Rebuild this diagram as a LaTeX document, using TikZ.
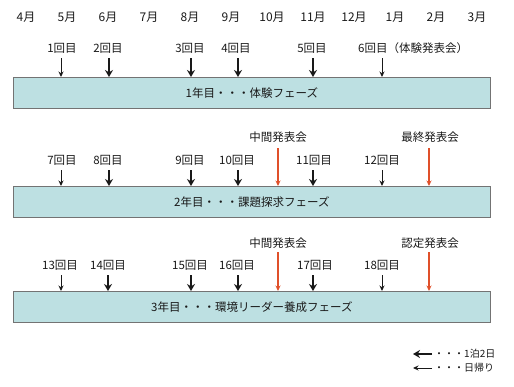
\documentclass[tikz,border=0pt]{standalone}
\usepackage{fontspec}
\usetikzlibrary{arrows.meta}
\setmainfont{Noto Sans CJK JP}
\begin{document}
\begin{tikzpicture}[x=1pt,y=-1pt,
  lbl/.style={font=\fontsize{11.5}{13}\selectfont, inner sep=0pt, text=black!90},
  mon/.style={font=\fontsize{12}{14}\selectfont, inner sep=0pt, text=black!90},
  bar/.style={draw=black!55, line width=0.8pt, fill=barfill, minimum width=477pt, minimum height=31pt, inner sep=0pt, anchor=north west, font=\fontsize{11.5}{13}\selectfont, text=black!90},
  thickarr/.style={line width=2.4pt, -{Stealth[length=7pt,width=8pt]}, black!90},
  thinarr/.style={line width=1pt, -{Stealth[length=5.5pt,width=5pt]}, black!90},
  redarr/.style={line width=1.2pt, -{Stealth[length=5.5pt,width=5pt]}, redc},
]
\definecolor{barfill}{HTML}{BDE0E2}
\definecolor{redc}{HTML}{E0502A}
\useasboundingbox (0,0) rectangle (514,386);
% months
\foreach \m [count=\i from 0] in {4,5,6,7,8,9,10,11,12,1,2,3}{
  \node[mon] (m\i) at ({26+41*\i},17) {\m 月};
}
% bars
\node[bar] (b1) at (13,77) {1年目・・・体験フェーズ};
\node[bar] (b2) at (13,186) {2年目・・・課題探求フェーズ};
\node[bar] (b3) at (13,291) {3年目・・・環境リーダー養成フェーズ};

% row 1
\node[lbl] (l1) at (62,48) {1回目};
\node[lbl] (l2) at (108,48) {2回目};
\node[lbl] (l3) at (190,48) {3回目};
\node[lbl] (l4) at (236,48) {4回目};
\node[lbl] (l5) at (312,48) {5回目};
\node[lbl,anchor=west] (l6) at (358,48) {6回目（体験発表会）};
\coordinate (a1) at (61,58); \coordinate (a2) at (109,58); \coordinate (a3) at (191,58);
\coordinate (a4) at (238,58); \coordinate (a5) at (313,58); \coordinate (a6) at (382,58);
\draw[thinarr] (a1) -- (a1 |- b1.north);
\draw[thickarr] (a2) -- (a2 |- b1.north);
\draw[thickarr] (a3) -- (a3 |- b1.north);
\draw[thickarr] (a4) -- (a4 |- b1.north);
\draw[thickarr] (a5) -- (a5 |- b1.north);
\draw[thinarr] (a6) -- (a6 |- b1.north);

% row 2
\node[lbl] (c1) at (278,137) {中間発表会};
\node[lbl] (c2) at (430,137) {最終発表会};
\node[lbl] (l7) at (62,160) {7回目};
\node[lbl] (l8) at (108,160) {8回目};
\node[lbl] (l9) at (190,160) {9回目};
\node[lbl] (l10) at (237,160) {10回目};
\node[lbl] (l11) at (314,160) {11回目};
\node[lbl] (l12) at (382,160) {12回目};
\coordinate (a7) at (61,170); \coordinate (a8) at (109,170); \coordinate (a9) at (191,170);
\coordinate (a10) at (238,170); \coordinate (a11) at (313,170); \coordinate (a12) at (382,170);
\coordinate (r1) at (278,148); \coordinate (r2) at (429,148);
\draw[thinarr] (a7) -- (a7 |- b2.north);
\draw[thickarr] (a8) -- (a8 |- b2.north);
\draw[thickarr] (a9) -- (a9 |- b2.north);
\draw[thickarr] (a10) -- (a10 |- b2.north);
\draw[thickarr] (a11) -- (a11 |- b2.north);
\draw[thinarr] (a12) -- (a12 |- b2.north);
\draw[redarr] (r1) -- (r1 |- b2.north);
\draw[redarr] (r2) -- (r2 |- b2.north);

% row 3
\node[lbl] (c3) at (278,243) {中間発表会};
\node[lbl] (c4) at (430,243) {認定発表会};
\node[lbl] (l13) at (60,265) {13回目};
\node[lbl] (l14) at (108,265) {14回目};
\node[lbl] (l15) at (190,265) {15回目};
\node[lbl] (l16) at (237,265) {16回目};
\node[lbl] (l17) at (315,265) {17回目};
\node[lbl] (l18) at (382,265) {18回目};
\coordinate (a13) at (61,275); \coordinate (a14) at (108,275); \coordinate (a15) at (191,275);
\coordinate (a16) at (238,275); \coordinate (a17) at (313,275); \coordinate (a18) at (382,275);
\coordinate (r3) at (278,252); \coordinate (r4) at (429,252);
\draw[thinarr] (a13) -- (a13 |- b3.north);
\draw[thickarr] (a14) -- (a14 |- b3.north);
\draw[thickarr] (a15) -- (a15 |- b3.north);
\draw[thickarr] (a16) -- (a16 |- b3.north);
\draw[thickarr] (a17) -- (a17 |- b3.north);
\draw[thinarr] (a18) -- (a18 |- b3.north);
\draw[redarr] (r3) -- (r3 |- b3.north);
\draw[redarr] (r4) -- (r4 |- b3.north);

% legend
\node[lbl,anchor=west,font=\fontsize{10}{12}\selectfont] (g1) at (434,354) {・・・1泊2日};
\node[lbl,anchor=west,font=\fontsize{10}{12}\selectfont] (g2) at (434,368) {・・・日帰り};
\coordinate (k1) at (432,354); \coordinate (k2) at (432,368);
\draw[thickarr] (k1) -- ++(-19,0);
\draw[thinarr] (k2) -- ++(-19,0);
\end{tikzpicture}
\end{document}
